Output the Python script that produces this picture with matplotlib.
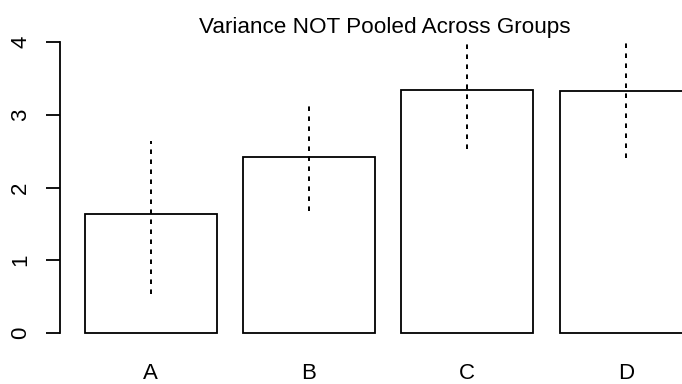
import matplotlib
matplotlib.use("Agg")
import matplotlib.pyplot as plt

# Group means with the lower / upper ends of each (unpooled) interval
groups = ["A", "B", "C", "D"]
means = [1.636, 2.423, 3.336, 3.326]
lower = [0.54, 1.68, 2.53, 2.41]
upper = [2.64, 3.15, 4.00, 4.06]
yticks = [0, 1, 2, 3, 4]
title = "Variance NOT Pooled Across Groups"

plt.rcParams["font.family"] = ["Liberation Sans", "DejaVu Sans"]
plt.rcParams["lines.scale_dashes"] = False

W, H = 682, 384
fig = plt.figure(figsize=(W / 100, H / 100), dpi=100)

# plot region in pixels (extends past the right edge, like a clipped base-R device)
left_px, right_px = 60.3, 716.0
bottom_px, top_px = 344.6, 30.4
ax = fig.add_axes([left_px / W, 1 - bottom_px / H,
                   (right_px - left_px) / W, (bottom_px - top_px) / H])

width, space = 1.0, 0.2
centers = [space + width / 2 + i * (width + space) for i in range(len(groups))]

ax.bar(centers, means, width=width, color="white", edgecolor="black",
       linewidth=1.3, zorder=2)
ax.vlines(centers, lower, upper, colors="black", linewidth=1.4,
          linestyles=[(0, (3.3, 3.9))], zorder=3)

n = len(groups)
span = n * (width + space)
pad_x = 0.04 * (span - space)
ax.set_xlim(space - pad_x, span + pad_x)
ax.set_ylim(-0.04 * 4, 4 + 0.04 * 4)

for s in ["top", "right", "bottom"]:
    ax.spines[s].set_visible(False)
ax.spines["left"].set_bounds(0, 4)
ax.spines["left"].set_linewidth(1.3)

ax.set_yticks(yticks)
ax.set_yticklabels([str(t) for t in yticks], rotation=90, va="center")
ax.tick_params(axis="y", length=10, width=1.3, pad=11, labelsize=16)

ax.set_xticks(centers)
ax.set_xticklabels(groups)
ax.tick_params(axis="x", length=0, pad=13, labelsize=16)

fig.text(385 / W, 1 - 32.7 / H, title, ha="center", va="baseline", fontsize=16.2)

fig.savefig("out.png", dpi=100)
